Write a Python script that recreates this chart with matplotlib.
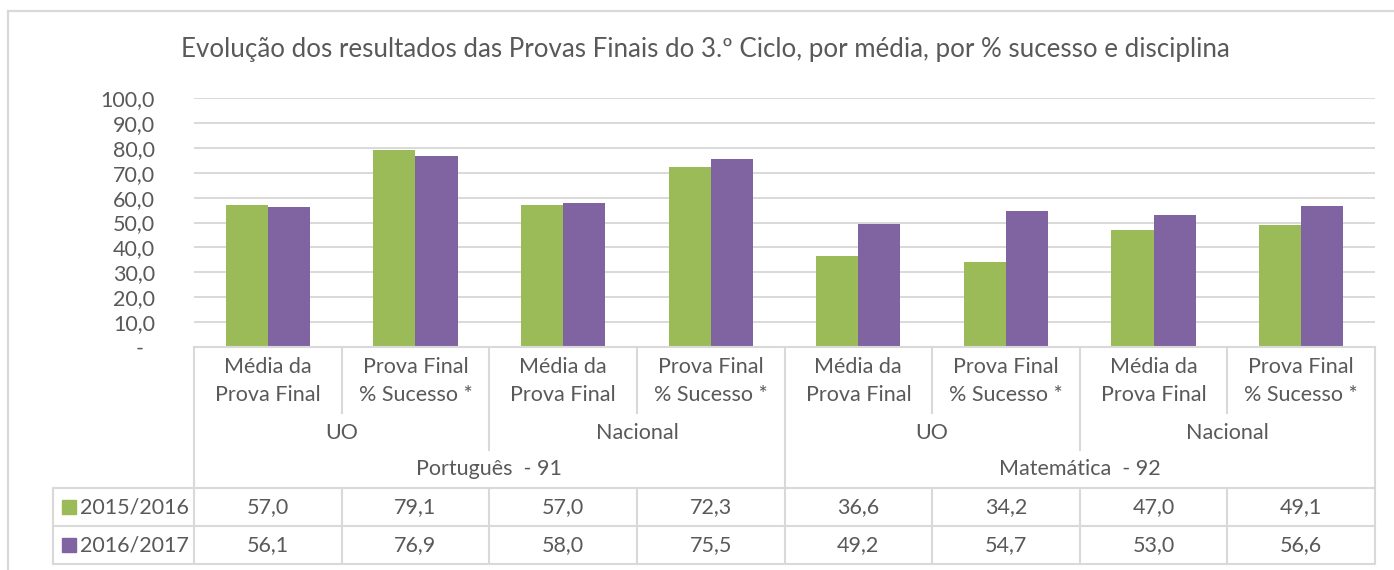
import matplotlib
matplotlib.use("Agg")
import matplotlib.pyplot as plt
import numpy as np

plt.rcParams['font.family'] = ['Lato', 'DejaVu Sans']

# categories (three levels) and values
labels = ["Média da\nProva Final", "Prova Final\n% Sucesso *"] * 4
level2 = ["UO", "Nacional", "UO", "Nacional"]
level3 = ["Português  - 91", "Matemática  - 92"]
series = ["2015/2016", "2016/2017"]
v2015 = [57.0, 79.1, 57.0, 72.3, 36.6, 34.2, 47.0, 49.1]
v2017 = [56.1, 76.9, 58.0, 75.5, 49.2, 54.7, 53.0, 56.6]
colors = ["#9BBB59", "#8064A2"]

title = "Evolução dos resultados das Provas Finais do 3.º Ciclo, por média, por % sucesso e disciplina"

txt = "#595959"
grid = "#D9D9D9"
W, H = 1394, 570
fig = plt.figure(figsize=(W / 100, H / 100), dpi=100)

# plot area (pixels)
x0, x1, ytop, ybot = 194, 1375, 98, 347
ax = fig.add_axes([x0 / W, 1 - ybot / H, (x1 - x0) / W, (ybot - ytop) / H])
n = len(labels)
x = np.arange(n)
bw = 0.285
ax.bar(x - bw / 2, v2015, bw, color=colors[0], zorder=3)
ax.bar(x + bw / 2, v2017, bw, color=colors[1], zorder=3)
ax.set_xlim(-0.5, n - 0.5)
ax.set_ylim(0, 100)
ax.set_yticks(np.arange(0, 101, 10))
ax.set_yticklabels(["-  "] + ["{:.1f}".format(v).replace(".", ",") for v in range(10, 101, 10)],
                   fontsize=15.5, color=txt)
ax.tick_params(axis='y', length=0, pad=28)
ax.set_xticks([])
ax.grid(axis='y', color=grid, linewidth=1.4, zorder=0)
for s in ax.spines.values():
    s.set_visible(False)

fig.text(705 / W, 1 - 50 / H, title, ha='center', va='center', fontsize=18.6, color=txt)

# outer chart frame
fig.add_artist(plt.Line2D([8 / W, 8 / W], [0, 1 - 11 / H], color=grid, lw=1.6))
fig.add_artist(plt.Line2D([8 / W, 1], [1 - 11 / H, 1 - 11 / H], color=grid, lw=1.6))

# table overlay: x in category units, y in pixels
tab = fig.add_axes([x0 / W, 0, (x1 - x0) / W, 1])
tab.set_xlim(ax.get_xlim())
tab.set_ylim(H, 0)
tab.axis('off')
cw = (x1 - x0) / n
tleft = -0.5 - (x0 - 53) / cw
lc = dict(color=grid, lw=1.5, clip_on=False)

r1, r2, r3, r4, r5, r6 = 347, 413, 450, 488, 526, 564
tab.plot([-0.5, n - 0.5], [r1, r1], **lc)
for b in np.arange(n + 1) - 0.5:
    k = int(b + 0.5)
    if k in (0, 4, n):
        tab.plot([b, b], [r1, r6], **lc)
    elif k % 2 == 0:
        tab.plot([b, b], [r1, r3], **lc)
        tab.plot([b, b], [r4, r6], **lc)
    else:
        tab.plot([b, b], [r1, r2], **lc)
        tab.plot([b, b], [r4, r6], **lc)
tab.plot([tleft, tleft], [r4, r6], **lc)
for yy in (r4, r5, r6):
    tab.plot([tleft, n - 0.5], [yy, yy], **lc)

fs = 15.5
for i, lab in enumerate(labels):
    tab.text(i, 381, lab, ha='center', va='center', fontsize=fs, color=txt, linespacing=1.55)
for j, lab in enumerate(level2):
    tab.text(2 * j + 0.5, 433, lab, ha='center', va='center', fontsize=fs, color=txt)
for j, lab in enumerate(level3):
    tab.text(4 * j + 1.5, 469, lab, ha='center', va='center', fontsize=fs, color=txt)

for row, (name, vals, c) in enumerate(zip(series, [v2015, v2017], colors)):
    yc = (r4 + r5) / 2 if row == 0 else (r5 + r6) / 2
    tab.plot([-0.5 - (x0 - 69) / cw], [yc], marker='s', ms=10.5, color=c, clip_on=False)
    tab.text(-0.5 - (x0 - 80) / cw, yc, name, ha='left', va='center', fontsize=fs, color=txt)
    for i, v in enumerate(vals):
        tab.text(i, yc, "{:.1f}".format(v).replace(".", ","), ha='center', va='center',
                 fontsize=fs, color=txt)

fig.savefig("out.png", dpi=100, facecolor='white')
